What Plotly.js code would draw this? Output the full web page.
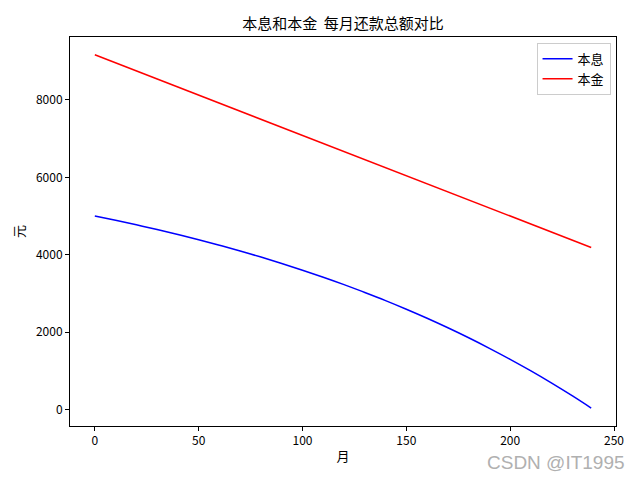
<!DOCTYPE html>
<html>
<head>
<meta charset="utf-8">
<script src="https://cdn.plot.ly/plotly-3.0.1.min.js"></script>
<style>html,body{margin:0;padding:0;background:#fff;}#chart{width:640px;height:480px;}</style>
</head>
<body>
<div id="chart"></div>
<script>
var months = [0,10,20,30,40,50,60,70,80,90,100,110,120,130,140,150,160,170,180,190,200,210,220,230,239];
var benxi = [5000,4889,4773,4651,4522,4387,4245,4096,3939,3774,3600,3418,3227,3025,2814,2591,2357,2111,1853,1581,1296,996,680,349,36];
var benjin = [9167,8958,8750,8542,8333,8125,7917,7708,7500,7292,7083,6875,6667,6458,6250,6042,5833,5625,5417,5208,5000,4792,4583,4375,4188];
var seriesNames = ['本息','本金'];
var xTicks = [0,50,100,150,200,250];
var yTicks = [0,2000,4000,6000,8000];

var font = 'Noto Sans CJK SC, DejaVu Sans, sans-serif';
var traces = [
  {x: months, y: benxi, name: seriesNames[0], mode: 'lines', line: {color: 'blue', width: 1.5, shape: 'spline'}},
  {x: months, y: benjin, name: seriesNames[1], mode: 'lines', line: {color: 'red', width: 1.5}}
];
var axisCommon = {
  showgrid: false, zeroline: false, showline: true, mirror: true,
  linecolor: 'black', linewidth: 1, ticks: 'outside', ticklen: 4, tickwidth: 1,
  tickcolor: 'black', tickfont: {family: font, size: 12, color: 'black'}
};
var layout = {
  width: 640, height: 480,
  margin: {l: 70, r: 24, t: 37, b: 54},
  paper_bgcolor: 'white', plot_bgcolor: 'white',
  font: {family: font, color: 'black'},
  title: {text: '本息和本金&#160;&#160;每月还款总额对比', font: {family: font, size: 15, color: 'black'},
          x: 0.5, xref: 'paper', xanchor: 'center', y: 1, yref: 'paper', yanchor: 'bottom', pad: {b: 8}},
  xaxis: Object.assign({}, axisCommon, {range: [-11.95, 250.95], tickvals: xTicks,
          title: {text: '月', font: {family: font, size: 13, color: 'black'}, standoff: 4}}),
  yaxis: Object.assign({}, axisCommon, {range: [-427, 9627], tickvals: yTicks,
          title: {text: '元', font: {family: font, size: 13, color: 'black'}, standoff: 8}}),
  showlegend: true,
  legend: {x: 0.99, y: 0.985, xanchor: 'right', yanchor: 'top', bgcolor: 'rgba(255,255,255,0.8)',
           bordercolor: '#cccccc', borderwidth: 1, font: {family: font, size: 13, color: 'black'},
           itemwidth: 30},
  annotations: [{text: 'CSDN @IT1995', xref: 'paper', yref: 'paper', x: 1.02, y: -0.095,
                 xanchor: 'right', yanchor: 'middle', showarrow: false,
                 font: {family: 'Liberation Sans, sans-serif', size: 19, color: '#b0b0b0'}}]
};
Plotly.newPlot('chart', traces, layout, {displayModeBar: false, staticPlot: true});
</script>
</body>
</html>
